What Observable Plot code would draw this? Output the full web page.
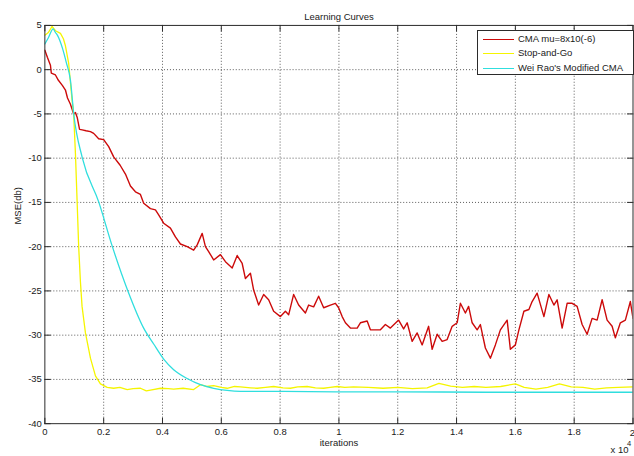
<!DOCTYPE html>
<html><head><meta charset="utf-8">
<script src="https://cdn.jsdelivr.net/npm/d3@7"></script>
<script src="https://cdn.jsdelivr.net/npm/@observablehq/plot@0.6"></script>
<style>
html,body{margin:0;padding:0;background:#fff;overflow:hidden;}
#wrap{position:relative;width:634px;height:456px;overflow:hidden;background:#fff;font-family:"Liberation Sans",Arial,sans-serif;}
#legend{position:absolute;left:477px;top:30px;width:155px;height:43px;border:1px solid #2b2b2b;background:#fff;}
.lg-line{position:absolute;left:5px;width:31px;height:1px;}
.lg-text{position:absolute;left:40px;font-size:9.5px;color:#1a1a1a;line-height:12px;white-space:nowrap;}
</style></head>
<body><div id="wrap"></div>
<script>
// x values are iterations in units of 10^4
const xTicks = [0, 0.2, 0.4, 0.6, 0.8, 1, 1.2, 1.4, 1.6, 1.8, 2];
const yTicks = [5, 0, -5, -10, -15, -20, -25, -30, -35, -40];
const seriesNames = ["CMA mu=8x10(-6)", "Stop-and-Go", "Wei Rao's Modified CMA"];
const seriesColors = ["#cc0a0a", "#f5f500", "#30dede"];

const cmaIter = [
  0, 0.0085, 0.019, 0.022, 0.036, 0.046, 0.060, 0.070, 0.077, 0.087,
  0.098, 0.104, 0.110, 0.118, 0.127, 0.140, 0.155, 0.166, 0.183, 0.200,
  0.217, 0.234, 0.256, 0.274, 0.291, 0.308, 0.325, 0.336, 0.359, 0.376,
  0.387, 0.404, 0.427, 0.444, 0.461, 0.484, 0.506, 0.518, 0.535, 0.546,
  0.557, 0.574, 0.597, 0.614, 0.637, 0.654, 0.671, 0.682, 0.699, 0.710,
  0.727, 0.744, 0.761, 0.778, 0.801, 0.818, 0.829, 0.846, 0.863, 0.886,
  0.897, 0.914, 0.931, 0.948, 0.971, 0.988, 0.999, 1.011, 1.022, 1.039,
  1.062, 1.073, 1.096, 1.107, 1.141, 1.158, 1.175, 1.203, 1.220, 1.232,
  1.249, 1.266, 1.283, 1.305, 1.317, 1.334, 1.351, 1.368, 1.385, 1.402,
  1.413, 1.430, 1.441, 1.453, 1.470, 1.481, 1.498, 1.515, 1.532, 1.549,
  1.572, 1.583, 1.600, 1.612, 1.629, 1.646, 1.657, 1.674, 1.697, 1.714,
  1.731, 1.742, 1.759, 1.776, 1.793, 1.810, 1.827, 1.844, 1.861, 1.878,
  1.895, 1.912, 1.929, 1.940, 1.957, 1.974, 1.991, 2.0
];
const cmaMSE = [
  2.2, 1.4, 0.5, -0.4, -0.6, -1.2, -1.8, -2.3, -3.2, -3.9,
  -5.0, -4.85, -5.4, -6.75, -6.8, -6.9, -7.0, -7.2, -7.8, -7.9,
  -8.7, -9.85, -10.8, -11.8, -13.15, -13.8, -14.1, -15.1, -15.7, -15.85,
  -16.4, -17.35, -17.9, -18.9, -19.7, -20.0, -20.4, -19.8, -18.5, -20.0,
  -20.55, -21.5, -20.9, -21.7, -22.4, -21.0, -21.9, -23.6, -23.0, -24.9,
  -26.6, -25.4, -26.0, -27.3, -27.9, -27.3, -27.7, -25.4, -26.6, -27.5,
  -26.6, -26.8, -25.6, -26.9, -26.6, -26.4, -26.9, -27.9, -28.6, -29.2,
  -29.2, -28.6, -28.4, -29.4, -29.4, -28.8, -29.2, -28.3, -29.3, -28.6,
  -30.7, -29.75, -31.1, -29.0, -31.6, -29.9, -30.7, -30.5, -29.0, -28.6,
  -26.4, -27.5, -26.75, -28.6, -29.4, -28.8, -31.45, -32.6, -31.1, -29.4,
  -28.3, -31.6, -31.1, -29.4, -27.3, -27.1, -26.2, -25.25, -27.9, -25.4,
  -26.6, -26.0, -29.2, -26.4, -26.4, -26.75, -28.8, -29.9, -28.1, -28.3,
  -26.0, -28.3, -29.0, -30.3, -28.6, -28.3, -26.2, -28.1
];

const sagIter = [
  0, 0.012, 0.0245, 0.036, 0.053, 0.063, 0.070, 0.081, 0.0925, 0.098,
  0.104, 0.1095, 0.115, 0.121, 0.1265, 0.138, 0.155, 0.172, 0.189, 0.212,
  0.234, 0.255, 0.280, 0.300, 0.325, 0.345, 0.359, 0.393, 0.420, 0.438,
  0.470, 0.506, 0.529, 0.550, 0.574, 0.600, 0.620, 0.645, 0.665, 0.700,
  0.722, 0.750, 0.778, 0.810, 0.835, 0.860, 0.892, 0.920, 0.948, 0.970,
  0.994, 1.02, 1.05, 1.10, 1.15, 1.20, 1.25, 1.30, 1.34, 1.38,
  1.42, 1.46, 1.50, 1.55, 1.60, 1.63, 1.67, 1.71, 1.75, 1.79,
  1.83, 1.87, 1.91, 1.95, 2.0
];
const sagMSE = [
  3.9, 4.2, 4.9, 4.4, 4.1, 3.5, 2.7, 0.7, -3.45, -5.0,
  -9.5, -14.7, -20.0, -24.0, -26.75, -29.75, -32.6, -34.6, -35.5, -35.9,
  -36.0, -35.9, -36.15, -36.05, -36.0, -36.3, -36.2, -36.0, -36.05, -36.1,
  -36.0, -36.15, -35.6, -35.8, -35.7, -35.9, -36.0, -35.8, -35.85, -35.95,
  -36.0, -35.9, -35.8, -35.95, -36.0, -35.85, -35.8, -35.95, -36.0, -35.9,
  -35.8, -35.9, -35.85, -35.9, -36.0, -35.9, -36.05, -35.95, -35.45, -35.75,
  -35.9, -35.8, -35.9, -35.8, -35.5, -35.9, -36.1, -35.9, -35.5, -35.85,
  -35.9, -36.1, -35.95, -35.9, -35.85
];

const weiIter = [
  0, 0.012, 0.028, 0.036, 0.0425, 0.060, 0.073, 0.087, 0.098, 0.1276,
  0.1837, 0.2296, 0.2823, 0.336, 0.370, 0.404, 0.438, 0.484, 0.529,
  0.574, 0.620, 0.665, 0.80, 1.0, 1.2, 1.5, 2.0
];
const weiMSE = [
  2.9, 3.6, 4.6, 4.2, 3.9, 2.4, 0.8, -1.2, -4.95, -10.0,
  -15.0, -20.0, -25.0, -29.2, -31.0, -32.7, -33.9, -34.9, -35.6,
  -36.0, -36.25, -36.35, -36.35, -36.4, -36.4, -36.45, -36.45
];

const axisColor = "#2b2b2b";
const xGrid = xTicks.slice(1, -1);
const yGrid = yTicks.slice(1, -1);
const xLabelTicks = xTicks.slice(0, -1);
const xLastTick = xTicks.slice(-1);
const tickShape = {draw(ctx, l) { ctx.moveTo(0, 0); ctx.lineTo(0, -l); }};
const tickOpts = {length: 5.5, anchor: "start", shape: tickShape, stroke: axisColor, strokeWidth: 1};
const xMin = xTicks[0], xMax = xTicks[xTicks.length - 1];
const yMax = yTicks[0], yMin = yTicks[yTicks.length - 1];

const chart = Plot.plot({
  width: 636,
  height: 456,
  marginLeft: 44.5,
  marginRight: 1.5,
  marginTop: 25,
  marginBottom: 31.5,
  style: {fontFamily: "'Liberation Sans', Arial, sans-serif", fontSize: "9.5px", color: "#1a1a1a", background: "#fff", overflow: "visible"},
  x: {domain: [xMin, xMax], axis: null},
  y: {domain: [yMin, yMax], axis: null},
  marks: [
    Plot.ruleX(xGrid, {x: d => d, stroke: "#000", strokeOpacity: 0.65, strokeDasharray: "1,2"}),
    Plot.ruleY(yGrid, {y: d => d, stroke: "#000", strokeOpacity: 0.65, strokeDasharray: "1,2"}),
    Plot.line(cmaMSE, {x: cmaIter, y: cmaMSE, stroke: seriesColors[0], strokeWidth: 1.4, clip: true}),
    Plot.line(sagMSE, {x: sagIter, y: sagMSE, stroke: seriesColors[1], strokeWidth: 1.3, clip: true}),
    Plot.line(weiMSE, {x: weiIter, y: weiMSE, stroke: seriesColors[2], strokeWidth: 1.3, curve: "monotone-x", clip: true}),
    Plot.frame({stroke: axisColor}),
    Plot.vector(xTicks, {x: d => d, y: yMin, rotate: 0, ...tickOpts}),
    Plot.vector(xTicks, {x: d => d, y: yMax, rotate: 180, ...tickOpts}),
    Plot.vector(yTicks, {x: xMin, y: d => d, rotate: 90, ...tickOpts}),
    Plot.vector(yTicks, {x: xMax, y: d => d, rotate: 270, ...tickOpts}),
    Plot.axisX({ticks: xLabelTicks, tickSize: 0, tickPadding: 5, tickFormat: d => String(d), label: null}),
    Plot.text(xLastTick, {x: d => d, y: yMin, text: d => String(d), textAnchor: "end", dx: 2, dy: 9.5, fill: "#1a1a1a"}),
    Plot.axisY({ticks: yTicks, tickSize: 0, tickPadding: 3, tickFormat: d => String(d), label: null}),
    Plot.text(["Learning Curves"], {text: d => d, frameAnchor: "top", dy: -12, fill: "#1a1a1a"}),
    Plot.text(["iterations"], {text: d => d, frameAnchor: "bottom", dy: 22, fill: "#1a1a1a"}),
    Plot.text(["MSE(db)"], {text: d => d, frameAnchor: "left", dx: -26.5, rotate: -90, fill: "#1a1a1a"}),
    Plot.text(["x 10"], {text: d => d, frameAnchor: "bottom-right", textAnchor: "start", dx: -22.5, dy: 29, fill: "#1a1a1a"}),
    Plot.text(["4"], {text: d => d, frameAnchor: "bottom-right", textAnchor: "start", dx: -6, dy: 22.5, fontSize: 7.5, fill: "#1a1a1a"})
  ]
});

const wrap = document.getElementById("wrap");
wrap.appendChild(chart);

const legend = document.createElement("div");
legend.id = "legend";
const rowTops = [7.5, 22, 36.5];
seriesNames.forEach((name, i) => {
  const ln = document.createElement("div");
  ln.className = "lg-line";
  ln.style.top = rowTops[i] + "px";
  ln.style.background = seriesColors[i];
  legend.appendChild(ln);
  const tx = document.createElement("div");
  tx.className = "lg-text";
  tx.style.top = (rowTops[i] - 6) + "px";
  tx.textContent = name;
  legend.appendChild(tx);
});
wrap.appendChild(legend);
</script>
</body></html>
